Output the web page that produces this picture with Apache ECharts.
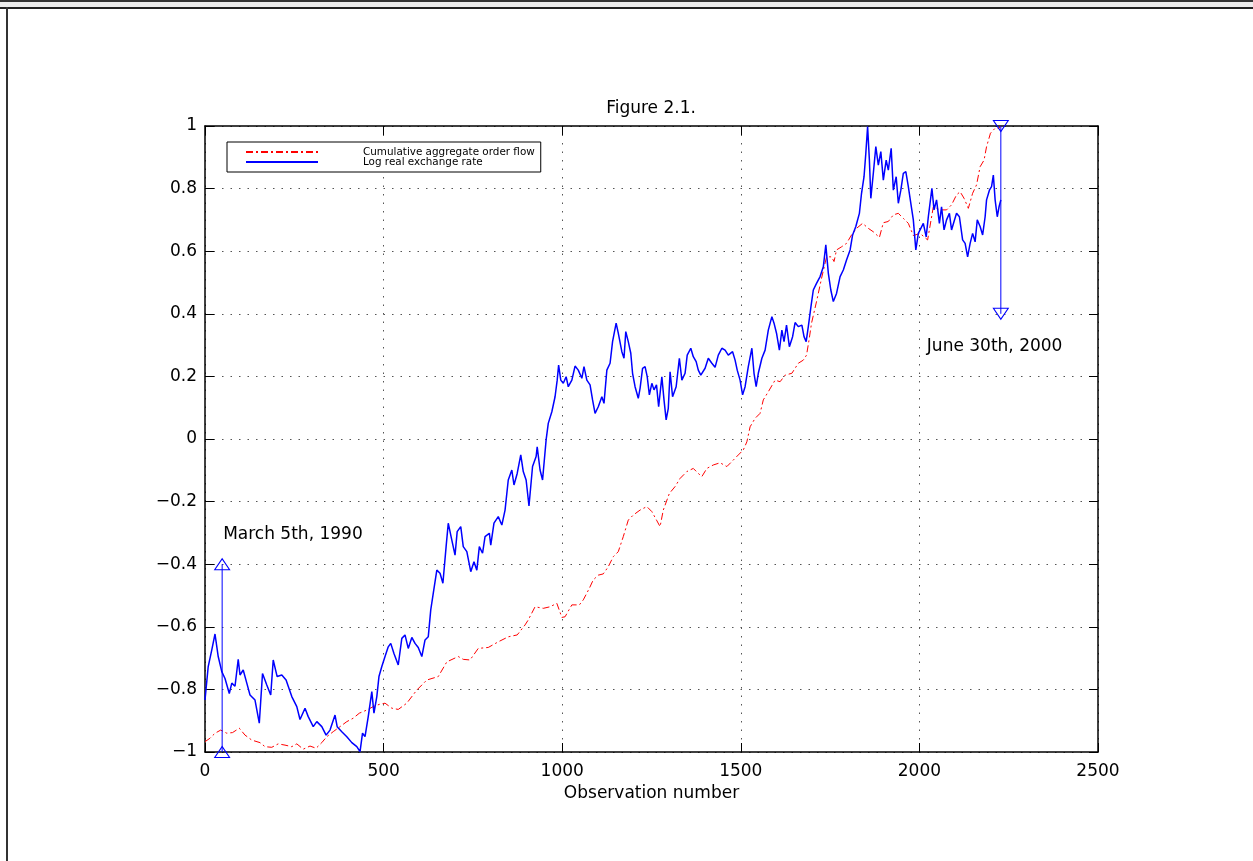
<!DOCTYPE html>
<html>
<head>
<meta charset="utf-8">
<script src="https://cdn.jsdelivr.net/npm/echarts@6/dist/echarts.min.js"></script>
<style>
html,body{margin:0;padding:0;background:#fff;}
#chart{width:1253px;height:861px;}
</style>
</head>
<body>
<div id="chart"></div>
<script>
// ---- data ----
var titleText = 'Figure 2.1.';
var xAxisName = 'Observation number';
var seriesNames = ['Cumulative aggregate order flow', 'Log real exchange rate'];
var xTicks = {min: 0, max: 2500, interval: 500};
var yTicks = {min: -1, max: 1, interval: 0.2};

var rateObs = [0,9,19,28,37,47,56,68,75,84,93,98,107,117,126,140,152,161,173,184,191,202,215,227,233,243,257,266,280,289,303,313,327,339,350,364,370,383,397,411,425,434,441,448,457,467,473,481,487,495,504,513,520,529,541,551,560,569,579,588,597,607,616,625,632,639,649,658,666,675,681,691,700,706,716,723,733,744,753,761,768,777,784,796,800,809,821,831,840,849,859,865,874,884,891,899,907,917,927,930,938,945,955,961,971,980,986,990,996,1003,1011,1017,1027,1036,1045,1055,1061,1069,1078,1085,1092,1101,1111,1117,1125,1134,1141,1151,1157,1167,1173,1178,1185,1192,1197,1204,1213,1218,1225,1232,1238,1244,1251,1257,1264,1270,1279,1285,1291,1297,1302,1309,1319,1328,1335,1344,1350,1360,1367,1375,1381,1388,1400,1409,1419,1428,1437,1447,1456,1465,1477,1484,1490,1498,1505,1512,1521,1531,1537,1543,1549,1559,1568,1577,1587,1593,1600,1608,1615,1621,1628,1636,1645,1652,1661,1671,1677,1683,1689,1696,1703,1712,1722,1731,1738,1745,1752,1759,1768,1778,1787,1796,1806,1813,1822,1832,1838,1845,1850,1855,1860,1864,1871,1878,1885,1892,1899,1907,1913,1921,1927,1935,1941,1948,1955,1962,1969,1976,1983,1990,1997,2002,2011,2019,2025,2035,2041,2048,2056,2062,2069,2076,2084,2090,2097,2104,2112,2121,2128,2135,2142,2149,2156,2162,2170,2177,2184,2188,2196,2202,2207,2212,2218,2223,2228];
var rateVal = [-0.834,-0.727,-0.674,-0.623,-0.695,-0.743,-0.765,-0.813,-0.780,-0.790,-0.704,-0.754,-0.738,-0.780,-0.818,-0.834,-0.908,-0.749,-0.786,-0.818,-0.706,-0.759,-0.754,-0.770,-0.790,-0.823,-0.855,-0.896,-0.860,-0.887,-0.919,-0.903,-0.919,-0.946,-0.930,-0.882,-0.919,-0.935,-0.951,-0.970,-0.983,-0.999,-0.940,-0.951,-0.887,-0.807,-0.876,-0.823,-0.759,-0.727,-0.695,-0.664,-0.653,-0.685,-0.722,-0.637,-0.626,-0.669,-0.634,-0.653,-0.666,-0.695,-0.642,-0.632,-0.546,-0.493,-0.419,-0.429,-0.461,-0.344,-0.269,-0.323,-0.371,-0.296,-0.280,-0.344,-0.360,-0.424,-0.392,-0.419,-0.344,-0.365,-0.312,-0.301,-0.339,-0.269,-0.248,-0.275,-0.227,-0.131,-0.099,-0.147,-0.110,-0.051,-0.104,-0.131,-0.214,-0.088,-0.056,-0.025,-0.099,-0.131,-0.003,0.050,0.087,0.135,0.188,0.236,0.188,0.178,0.199,0.167,0.188,0.233,0.220,0.194,0.231,0.188,0.173,0.125,0.082,0.103,0.135,0.114,0.220,0.242,0.311,0.370,0.338,0.279,0.258,0.343,0.311,0.274,0.210,0.167,0.130,0.162,0.226,0.231,0.199,0.141,0.178,0.157,0.173,0.103,0.199,0.125,0.061,0.098,0.215,0.135,0.167,0.258,0.188,0.210,0.268,0.290,0.263,0.247,0.220,0.204,0.226,0.258,0.242,0.229,0.268,0.290,0.284,0.268,0.279,0.252,0.220,0.188,0.141,0.167,0.231,0.290,0.210,0.167,0.210,0.258,0.284,0.348,0.391,0.370,0.338,0.284,0.348,0.311,0.364,0.295,0.327,0.372,0.359,0.364,0.327,0.311,0.359,0.420,0.476,0.497,0.519,0.550,0.620,0.530,0.476,0.439,0.465,0.519,0.540,0.572,0.604,0.652,0.679,0.721,0.785,0.838,0.913,0.998,0.891,0.769,0.849,0.934,0.875,0.918,0.827,0.891,0.859,0.929,0.795,0.838,0.753,0.795,0.849,0.854,0.806,0.753,0.700,0.604,0.657,0.657,0.689,0.646,0.710,0.801,0.732,0.764,0.689,0.742,0.668,0.700,0.721,0.668,0.695,0.721,0.710,0.636,0.625,0.582,0.625,0.657,0.630,0.700,0.679,0.652,0.710,0.764,0.795,0.806,0.843,0.764,0.710,0.742,0.764];

var flowObs = [0,14,28,44,61,77,96,112,131,154,168,187,205,224,243,257,275,294,311,327,341,359,378,397,415,432,453,471,490,504,523,541,565,593,621,653,677,709,723,742,765,793,821,849,874,896,905,924,947,966,985,999,1008,1027,1048,1059,1076,1087,1101,1115,1129,1143,1157,1171,1185,1199,1218,1237,1251,1264,1274,1283,1300,1316,1330,1349,1367,1381,1391,1405,1423,1442,1461,1475,1493,1507,1517,1526,1540,1554,1563,1577,1596,1610,1624,1643,1661,1675,1684,1691,1698,1712,1726,1740,1754,1761,1768,1782,1796,1810,1824,1841,1857,1871,1888,1899,1913,1927,1941,1955,1969,1983,2002,2023,2039,2058,2076,2090,2104,2114,2125,2137,2149,2160,2170,2181,2188,2199,2212,2223,2228];
var flowVal = [-0.967,-0.956,-0.940,-0.930,-0.940,-0.938,-0.924,-0.946,-0.962,-0.970,-0.983,-0.985,-0.974,-0.978,-0.983,-0.974,-0.991,-0.981,-0.988,-0.970,-0.951,-0.935,-0.919,-0.903,-0.892,-0.876,-0.866,-0.855,-0.847,-0.844,-0.860,-0.864,-0.844,-0.802,-0.770,-0.759,-0.712,-0.695,-0.704,-0.706,-0.669,-0.666,-0.648,-0.632,-0.626,-0.594,-0.578,-0.536,-0.541,-0.536,-0.525,-0.570,-0.568,-0.530,-0.530,-0.514,-0.477,-0.450,-0.435,-0.431,-0.408,-0.376,-0.360,-0.312,-0.259,-0.243,-0.227,-0.216,-0.232,-0.259,-0.280,-0.227,-0.174,-0.152,-0.126,-0.104,-0.094,-0.110,-0.120,-0.094,-0.083,-0.076,-0.088,-0.072,-0.051,-0.035,-0.009,0.039,0.066,0.082,0.125,0.151,0.188,0.183,0.204,0.210,0.242,0.252,0.268,0.316,0.370,0.439,0.513,0.582,0.582,0.567,0.604,0.614,0.625,0.652,0.673,0.689,0.673,0.662,0.644,0.691,0.695,0.716,0.721,0.705,0.689,0.650,0.657,0.636,0.742,0.732,0.732,0.748,0.780,0.790,0.769,0.737,0.785,0.812,0.870,0.891,0.934,0.977,0.993,0.993,1.000];

// date markers: observation number and vertical extent
var startMarkObs = 48, startMarkVals = [-1, -0.4], startMarkText = 'March 5th, 1990';
var endMarkObs = 2228, endMarkVals = [0.4, 1], endMarkText = 'June 30th, 2000';

// ---- build ----
function pairs(xs, ys){ return xs.map(function(x,i){ return [x, ys[i]]; }); }
var FONT = 'DejaVu Sans';
var gridDots = {type: [1.5, 7], color: '#555', width: 1};

var chart = echarts.init(document.getElementById('chart'), null, {renderer: 'canvas'});

function yFmt(v){
  var r = Math.round(v * 10) / 10;
  if (r === 0) return '0';
  return String(r).replace('-', '\u2212');
}
function xFmt(v){ return String(Math.round(v)); }

var axisLineStyle = {color: '#000', width: 1.5};
var tickStyle = {inside: true, length: 9, lineStyle: {color: '#000', width: 1}};

var option = {
  animation: false,
  backgroundColor: '#fff',
  title: {
    text: titleText, left: 651, top: 100, textAlign: 'center', padding: 0,
    textStyle: {fontFamily: FONT, fontSize: 17, fontWeight: 'normal', color: '#000'}
  },
  grid: {left: 205, right: 155, top: 126, bottom: 109, containLabel: false},
  legend: {
    left: 227, top: 142, orient: 'vertical',
    itemWidth: 72, itemHeight: 9, itemGap: 0,
    padding: [5, 6, 5, 18],
    borderColor: '#000', borderWidth: 1, backgroundColor: '#fff',
    itemStyle: {opacity: 0},
    textStyle: {fontFamily: FONT, fontSize: 10.4, color: '#000', padding: [0, 0, 0, 40], lineHeight: 9},
    data: seriesNames
  },
  xAxis: [{
    type: 'value', min: xTicks.min, max: xTicks.max, interval: xTicks.interval, position: 'bottom',
    axisLine: {show: true, onZero: false, lineStyle: axisLineStyle},
    axisTick: tickStyle,
    axisLabel: {color: '#000', fontFamily: FONT, fontSize: 17, margin: 11, formatter: xFmt},
    splitLine: {show: true, lineStyle: gridDots},
    name: xAxisName, nameLocation: 'middle', nameGap: 30,
    nameTextStyle: {color: '#000', fontFamily: FONT, fontSize: 17}
  }, {
    type: 'value', min: xTicks.min, max: xTicks.max, interval: xTicks.interval, position: 'top',
    axisLine: {show: true, onZero: false, lineStyle: axisLineStyle},
    axisTick: tickStyle, axisLabel: {show: false}, splitLine: {show: false}
  }],
  yAxis: [{
    type: 'value', min: yTicks.min, max: yTicks.max, interval: yTicks.interval, position: 'left',
    axisLine: {show: true, onZero: false, lineStyle: axisLineStyle},
    axisTick: tickStyle,
    axisLabel: {color: '#000', fontFamily: FONT, fontSize: 17, margin: 8, formatter: yFmt},
    splitLine: {show: true, lineStyle: gridDots}
  }, {
    type: 'value', min: yTicks.min, max: yTicks.max, interval: yTicks.interval, position: 'right',
    axisLine: {show: true, onZero: false, lineStyle: axisLineStyle},
    axisTick: tickStyle, axisLabel: {show: false}, splitLine: {show: false}
  }],
  series: [{
    name: seriesNames[0], type: 'line', symbol: 'none', silent: true,
    data: pairs(flowObs, flowVal),
    lineStyle: {color: '#ff0000', width: 1, type: [7, 3, 2, 3]},
    itemStyle: {color: '#ff0000'}, z: 3
  }, {
    name: seriesNames[1], type: 'line', symbol: 'none', silent: true,
    data: pairs(rateObs, rateVal),
    lineStyle: {color: '#0000ff', width: 1.5},
    itemStyle: {color: '#0000ff'}, z: 4
  }, {
    name: 'startMark', type: 'line', silent: true,
    data: startMarkVals.map(function(v){ return [startMarkObs, v]; }),
    symbol: 'triangle', symbolSize: [15, 11], showSymbol: true,
    lineStyle: {color: '#0000ff', width: 1},
    itemStyle: {color: 'rgba(0,0,0,0)', borderColor: '#0000ff', borderWidth: 1}, z: 5
  }, {
    name: 'endMark', type: 'line', silent: true,
    data: endMarkVals.map(function(v){ return [endMarkObs, v]; }),
    symbol: 'triangle', symbolRotate: 180, symbolSize: [15, 11], showSymbol: true,
    lineStyle: {color: '#0000ff', width: 1},
    itemStyle: {color: 'rgba(0,0,0,0)', borderColor: '#0000ff', borderWidth: 1}, z: 5
  }]
};
chart.setOption(option);

// annotation texts placed from the data coordinates of the markers
var pStart = chart.convertToPixel({gridIndex: 0}, [startMarkObs, startMarkVals[1]]);
var pEnd = chart.convertToPixel({gridIndex: 0}, [endMarkObs, endMarkVals[0]]);
chart.setOption({
  graphic: [
    {type: 'rect', shape: {x: 0, y: 0, width: 1253, height: 9}, style: {fill: '#ececec'}, silent: true},
    {type: 'rect', shape: {x: 0, y: 0, width: 1253, height: 2}, style: {fill: '#333'}, silent: true},
    {type: 'rect', shape: {x: 0, y: 7, width: 1253, height: 2}, style: {fill: '#222'}, silent: true},
    {type: 'rect', shape: {x: 6, y: 7, width: 2, height: 854}, style: {fill: '#333'}, silent: true},
    {type: 'text', x: pStart[0] + 1, y: pStart[1] - 30, silent: true,
      style: {text: startMarkText, fill: '#000', font: '17px "DejaVu Sans"', textAlign: 'left', textVerticalAlign: 'middle'}},
    {type: 'text', x: pEnd[0] - 74, y: pEnd[1] + 33, silent: true,
      style: {text: endMarkText, fill: '#000', font: '17px "DejaVu Sans"', textAlign: 'left', textVerticalAlign: 'middle'}}
  ]
});
</script>
</body>
</html>
